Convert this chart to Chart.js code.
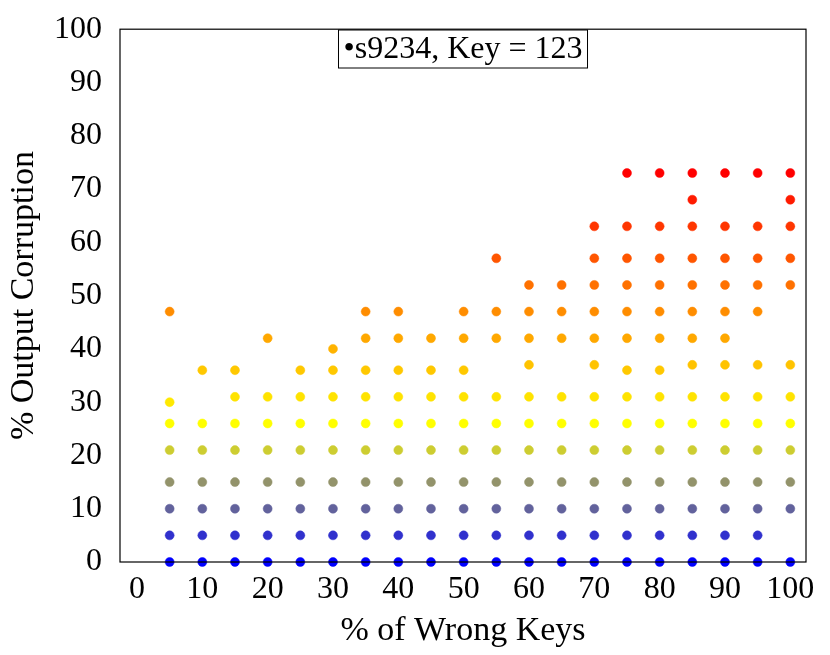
<!DOCTYPE html>
<html><head><meta charset="utf-8">
<script src="https://cdn.jsdelivr.net/npm/chart.js@4"></script>
<style>body{margin:0;background:#fff}#w{width:830px;height:655px}</style>
</head><body><div id="w"><canvas id="c"></canvas></div>
<script>
const xValues = [5,10,15,20,25,30,35,40,45,50,55,60,65,70,75,80,85,90,95,100];
const yColumns = [
 [0,5,10,15,21,26,30,47],
 [0,5,10,15,21,26,36],
 [0,5,10,15,21,26,31,36],
 [0,5,10,15,21,26,31,42],
 [0,5,10,15,21,26,31,36],
 [0,5,10,15,21,26,31,36,40],
 [0,5,10,15,21,26,31,36,42,47],
 [0,5,10,15,21,26,31,36,42,47],
 [0,5,10,15,21,26,31,36,42],
 [0,5,10,15,21,26,31,36,42,47],
 [0,5,10,15,21,26,31,42,47,57],
 [0,5,10,15,21,26,31,37,42,47,52],
 [0,5,10,15,21,26,31,42,47,52],
 [0,5,10,15,21,26,31,37,42,47,52,57,63],
 [0,5,10,15,21,26,31,36,42,47,52,57,63,73],
 [0,5,10,15,21,26,31,36,42,47,52,57,63,73],
 [0,5,10,15,21,26,31,37,42,47,52,57,63,68,73],
 [0,5,10,15,21,26,31,37,42,47,52,57,63,73],
 [0,5,10,15,21,26,31,37,47,52,57,63,73],
 [0,10,15,21,26,31,37,52,57,63,68,73]
];
const xTicks = [0,10,20,30,40,50,60,70,80,90,100];
const yTicks = [0,10,20,30,40,50,60,70,80,90,100];
const legendText = '\u2022s9234, Key = 123';

const pts = [];
xValues.forEach((x,i)=>yColumns[i].forEach(y=>pts.push({x,y})));
function col(v){
  let r,g,b;
  if(v<=26){const t=v/26;r=255*t;g=255*t;b=255*(1-t);}
  else{const t=Math.min(1,(v-26)/47);r=255;g=255*(1-t);b=0;}
  return `rgb(${r|0},${g|0},${b|0})`;
}
const F='"Liberation Serif", serif';
const legendPlugin={id:'lg',afterDraw(ch){
  const c=ch.ctx;c.save();c.font='32px '+F;
  const w=c.measureText(legendText).width;const cx=(ch.chartArea.left+ch.chartArea.right)/2;
  const x0=cx-w/2-5,y0=30,h=38;
  c.fillStyle='#fff';c.fillRect(x0,y0,w+10,h);c.strokeStyle='#000';c.lineWidth=1;c.strokeRect(x0,y0,w+10,h);
  c.fillStyle='#000';c.textBaseline='middle';c.fillText(legendText,x0+5,y0+h/2+1);c.restore();
}};
const boxPlugin={id:'bx',afterDraw(ch){const a=ch.chartArea,c=ch.ctx;c.save();c.strokeStyle='#000';c.lineWidth=1.2;c.strokeRect(a.left,a.top,a.right-a.left,a.bottom-a.top);c.restore();}};
new Chart(document.getElementById('c'),{
 type:'scatter',
 data:{datasets:[{data:pts,pointRadius:4.5,pointHoverRadius:4.5,clip:false,
   backgroundColor:ctx=>col(ctx.raw?ctx.raw.y:0),borderColor:ctx=>col(ctx.raw?ctx.raw.y:0),borderWidth:0.5}]},
 options:{responsive:true,maintainAspectRatio:false,animation:false,
  layout:{padding:{top:27,right:24,left:0,bottom:0}},
  plugins:{legend:{display:false},tooltip:{enabled:false}},
  scales:{
   x:{type:'linear',min:-2.6,max:102.4,afterBuildTicks:s=>{s.ticks=xTicks.map(v=>({value:v}))},
     grid:{display:false},border:{display:false},
     ticks:{color:'#000',font:{family:F,size:32},padding:0,maxRotation:0},
     title:{display:true,text:'% of Wrong Keys',color:'#000',font:{family:F,size:34},padding:{top:0}},
     afterFit:s=>{s.height=93}},
   y:{type:'linear',min:0,max:100,afterBuildTicks:s=>{s.ticks=yTicks.map(v=>({value:v}))},
     grid:{display:false},border:{display:false},
     ticks:{color:'#000',font:{family:F,size:32},padding:10},
     title:{display:true,text:'% Output Corruption',color:'#000',font:{family:F,size:34},padding:{bottom:0}},
     afterFit:s=>{s.width=120}}
  }},
 plugins:[boxPlugin,legendPlugin]
});
</script></body></html>
